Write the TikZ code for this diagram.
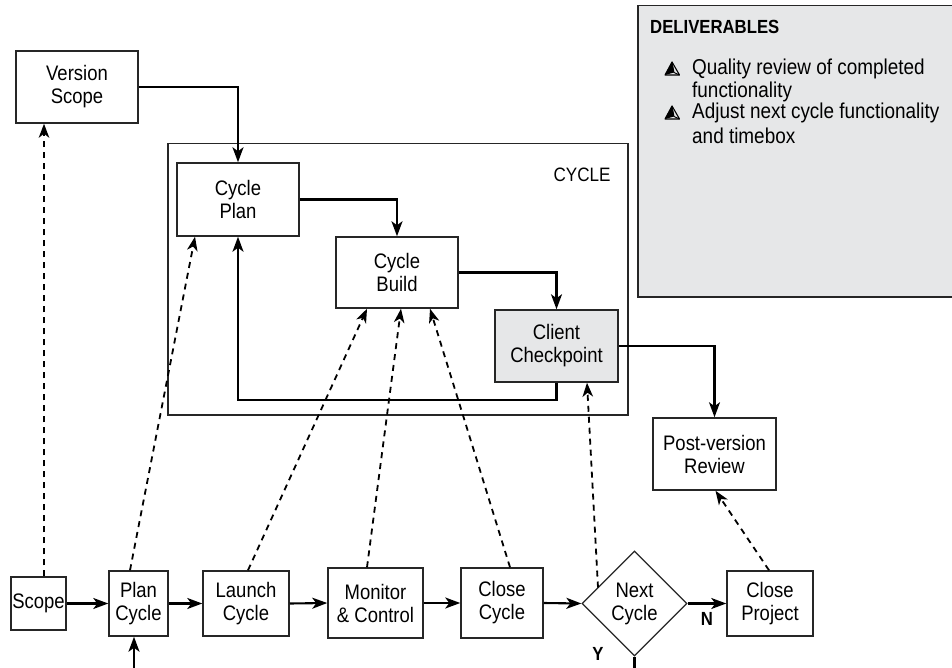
\documentclass[tikz,border=0pt]{standalone}
\usepackage{fontspec}
\setmainfont[FakeStretch=0.88]{Liberation Sans}
\usetikzlibrary{shapes.geometric,arrows.meta}
\definecolor{panel}{HTML}{E6E7E8}
\tikzset{
  box/.style={draw=black!85, line width=1.5pt, inner sep=0pt, align=center,
    font=\fontsize{21}{23}\selectfont},
  arr/.style={line width=2.1pt, -{Stealth[length=15pt,width=11pt,inset=4pt]}},
  darr/.style={line width=1.8pt, dash pattern=on 6pt off 5pt, -{Stealth[length=14pt,width=10.5pt,inset=4pt]}},
  lbl/.style={font=\fontsize{19}{20}\selectfont\bfseries, inner sep=0pt},
  deltext/.style={font=\fontsize{21.5}{23}\selectfont, inner sep=0pt, anchor=west}
}
\newcommand{\pyrbullet}[2]{%
  \fill[black] (#1-7,#2+6) -- (#1,#2-7) -- (#1+2,#2+3.5) -- cycle;
  \draw[line width=1.1pt, line join=round] (#1-7,#2+6) -- (#1,#2-7) -- (#1+7.5,#2+6) -- cycle;
  \draw[line width=0.9pt] (#1,#2-7) -- (#1+2,#2+3.5) -- (#1+7.5,#2+6);
}
\begin{document}
\begin{tikzpicture}[x=1pt,y=-1pt]
\useasboundingbox (0,0) rectangle (952,668);

% deliverables panel
\node[draw=black!85, line width=1.5pt, fill=panel, minimum width=316pt, minimum height=291pt,
  inner sep=0pt, anchor=north west] (deliv) at (637,5) {};
\node[font=\fontsize{19}{20}\selectfont\bfseries, inner sep=0pt, anchor=west] (dtitle) at (650,27) {DELIVERABLES};
\pyrbullet{672}{69}
\pyrbullet{672}{113}
\node[deltext] (d1) at (692,69) {Quality review of completed};
\node[deltext] (d1b) at (692,92) {functionality};
\node[deltext] (d2) at (692,113) {Adjust next cycle functionality};
\node[deltext] (d2b) at (692,136) {and timebox};

% cycle frame
\node[draw=black!85, line width=1.5pt, minimum width=460pt, minimum height=271pt, inner sep=0pt,
  anchor=north west] (cyc) at (167,143) {};
\node[font=\fontsize{19.4}{20}\selectfont, inner sep=0pt] (cyclbl) at (582,175) {CYCLE};

% upper boxes
\node[box, minimum width=122pt, minimum height=72pt] (vscope) at (77,87) {Version\\Scope};
\node[box, minimum width=122pt, minimum height=73pt] (cplan) at (238,199.5) {Cycle\\Plan};
\node[box, minimum width=122pt, minimum height=71pt] (cbuild) at (397,272.5) {Cycle\\Build};
\node[box, fill=panel, minimum width=123pt, minimum height=72pt] (client) at (556.5,346) {Client\\Checkpoint};
\node[box, minimum width=123pt, minimum height=72pt] (post) at (714.5,454) {Post-version\\Review};

% bottom row
\node[box, minimum width=55pt, minimum height=53pt] (scope) at (38.5,603.5) {Scope};
\node[box, minimum width=59pt, minimum height=65pt] (plan) at (138.5,603.5) {Plan\\Cycle};
\node[box, minimum width=86pt, minimum height=65pt] (launch) at (246,603.5) {Launch\\Cycle};
\node[box, minimum width=95pt, minimum height=70pt] (monitor) at (375.5,603) {Monitor\\\& Control};
\node[box, minimum width=82pt, minimum height=70pt] (closec) at (502,603) {Close\\Cycle};
\node[box, shape=diamond, aspect=1, minimum width=105pt, minimum height=105pt, line width=1.3pt] (next) at (634.5,603.5) {Next\\Cycle};
\node[box, minimum width=86pt, minimum height=65pt] (cproj) at (770,603.5) {Close\\Project};

\node[lbl] (nl) at (707,619) {N};
\node[lbl] (yl) at (598,654) {Y};

% solid connectors
\draw[arr] (vscope.east) -| (cplan.north);
\draw[arr] (cplan.east) -| (cbuild.north);
\draw[arr] (cbuild.east) -| (client.north);
\coordinate (fb) at (238,400);
\draw[arr] (client.south) |- (fb) -- (cplan.south);
\draw[arr] (client.east) -| (post.north);

\draw[arr] (scope.east) -- (plan.west);
\draw[arr] (plan.east) -- (launch.west);
\draw[arr] (launch.east) -- (monitor.west);
\draw[arr] (monitor.east) -- (closec.west);
\draw[arr] (closec.east) -- (next.west);
\draw[arr] (next.east) -- (cproj.west);
\coordinate (ybot) at (634.5,670);
\draw[line width=2.1pt] (next.south) -- (ybot);
\coordinate (pbot) at (134,670);
\draw[arr] (pbot) -- (pbot |- plan.south);

% dashed connectors
\draw[darr] ([xshift=5.5pt]scope.north) -- ([xshift=-33pt]vscope.south);
\draw[darr] ([xshift=-8.5pt]plan.north) -- ([xshift=-43pt]cplan.south);
\draw[darr] ([xshift=2pt]launch.north) -- ([xshift=-30pt]cbuild.south);
\draw[darr] ([xshift=-8.5pt]monitor.north) -- ([xshift=4pt]cbuild.south);
\draw[darr] ([xshift=8pt]closec.north) -- ([xshift=33pt]cbuild.south);
\draw[darr] ([xshift=-36.5pt,yshift=16pt]next.center) -- ([xshift=30.5pt]client.south);
\draw[darr] ([xshift=-1pt]cproj.north) -- ([xshift=1pt]post.south);
\end{tikzpicture}
\end{document}
